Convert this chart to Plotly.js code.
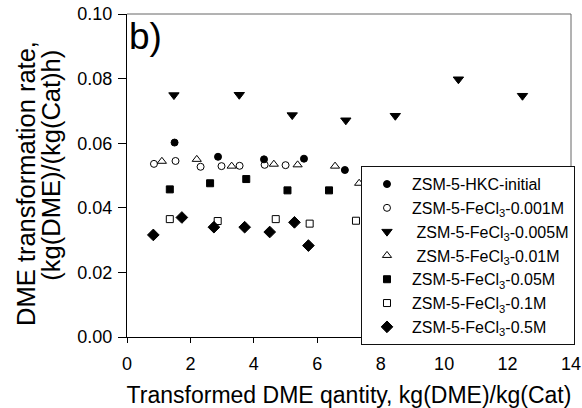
<!DOCTYPE html>
<html>
<head>
<meta charset="utf-8">
<script src="https://cdn.plot.ly/plotly-3.0.1.min.js"></script>
<style>html,body{margin:0;padding:0;background:#fff;}#chart{width:582px;height:408px;}</style>
</head>
<body>
<div id="chart"></div>
<script>
// Series data
const hkcX = [1.50, 2.87, 4.32, 5.58, 6.87];
const hkcY = [0.0602, 0.0558, 0.0550, 0.0552, 0.0517];

const fe0001X = [0.85, 1.53, 2.32, 2.98, 3.55, 4.34, 5.00];
const fe0001Y = [0.0536, 0.0545, 0.0527, 0.0529, 0.0530, 0.0533, 0.0532];

const fe0005X = [1.48, 3.54, 5.21, 6.90, 8.46, 10.45, 12.47];
const fe0005Y = [0.0749, 0.0750, 0.0687, 0.0671, 0.0685, 0.0798, 0.0747];

const fe001X = [1.10, 2.20, 3.30, 4.63, 5.38, 6.56, 7.32, 8.10];
const fe001Y = [0.0544, 0.0550, 0.0529, 0.0535, 0.0533, 0.0529, 0.0476, 0.0515];

const fe005X = [1.35, 2.62, 3.76, 5.06, 6.37];
const fe005Y = [0.0457, 0.0476, 0.0489, 0.0454, 0.0454];

const fe01X = [1.35, 2.86, 4.69, 5.76, 7.22];
const fe01Y = [0.0365, 0.0359, 0.0365, 0.0351, 0.0360];

const fe05X = [0.83, 1.73, 2.74, 3.71, 4.50, 5.28, 5.72];
const fe05Y = [0.0316, 0.0370, 0.0340, 0.0340, 0.0325, 0.0355, 0.0283];

const seriesNames = [
  'ZSM-5-HKC-initial',
  'ZSM-5-FeCl<sub>3</sub>-0.001M',
  ' ZSM-5-FeCl<sub>3</sub>-0.005M',
  ' ZSM-5-FeCl<sub>3</sub>-0.01M',
  'ZSM-5-FeCl<sub>3</sub>-0.05M',
  'ZSM-5-FeCl<sub>3</sub>-0.1M',
  'ZSM-5-FeCl<sub>3</sub>-0.5M'
];
const xTickVals = [0, 2, 4, 6, 8, 10, 12, 14];
const yTickVals = [0, 0.02, 0.04, 0.06, 0.08, 0.10];
const xTitle = 'Transformed DME qantity, kg(DME)/kg(Cat)';
const yTitleLines = ['DME transformation rate,', '(kg(DME)/(kg(Cat)h)'];

const FONT = 'Liberation Sans, Arial, sans-serif';
function tr(x, y, name, symbol, size) {
  return {
    x: x, y: y, name: name, type: 'scatter', mode: 'markers',
    marker: {symbol: symbol, size: size, color: '#000',
             line: {color: '#000', width: 1}},
    cliponaxis: false
  };
}
const data = [
  tr(hkcX, hkcY, seriesNames[0], 'circle', 7),
  tr(fe0001X, fe0001Y, seriesNames[1], 'circle-open', 7),
  tr(fe0005X, fe0005Y, seriesNames[2], 'triangle-down', 9),
  tr(fe001X, fe001Y, seriesNames[3], 'triangle-up-open', 8),
  tr(fe005X, fe005Y, seriesNames[4], 'square', 7),
  tr(fe01X, fe01Y, seriesNames[5], 'square-open', 7),
  tr(fe05X, fe05Y, seriesNames[6], 'diamond', 9)
];

const layout = {
  width: 582, height: 408,
  margin: {l: 127, r: 7, t: 14, b: 71},
  paper_bgcolor: '#fff', plot_bgcolor: '#fff',
  font: {family: FONT, color: '#000', size: 15},
  showlegend: true,
  legend: {
    x: 0.527, y: 0.529, xanchor: 'left', yanchor: 'top',
    bgcolor: '#fff', bordercolor: '#111', borderwidth: 1,
    font: {family: FONT, size: 16, color: '#000'},
    itemwidth: 40, tracegroupgap: 0
  },
  xaxis: {
    range: [0, 14], tickvals: xTickVals, ticktext: xTickVals.map(String),
    showgrid: false, zeroline: false, showline: true, mirror: false,
    linecolor: '#000', linewidth: 1,
    ticks: 'outside', ticklen: 5, tickcolor: '#000',
    ticklabelstandoff: 5, ticklabeloverflow: 'allow',
    tickfont: {family: FONT, size: 18},
    title: {text: xTitle, font: {family: FONT, size: 23}, standoff: 14}
  },
  yaxis: {
    range: [0, 0.10], tickvals: yTickVals, ticktext: yTickVals.map(v => v.toFixed(2)),
    showgrid: false, zeroline: false, showline: true, mirror: false,
    linecolor: '#000', linewidth: 1,
    ticks: 'outside', ticklen: 8, tickcolor: '#000',
    ticklabelstandoff: 2, ticklabeloverflow: 'allow',
    tickfont: {family: FONT, size: 18}
  },
  shapes: [
    {type: 'line', xref: 'paper', yref: 'paper', x0: 0, x1: 1, y0: 1, y1: 1, line: {color: '#666', width: 1}},
    {type: 'line', xref: 'paper', yref: 'paper', x0: 1, x1: 1, y0: 0, y1: 1, line: {color: '#666', width: 1}}
  ],
  annotations: [{
    text: 'b)', xref: 'paper', yref: 'paper', x: 0.0, y: 1.0,
    xanchor: 'left', yanchor: 'top', showarrow: false,
    font: {family: FONT, size: 37, color: '#000'}
  }, {
    text: yTitleLines[0], xref: 'paper', yref: 'paper', x: -0.226, y: 0.476,
    xanchor: 'center', yanchor: 'middle', textangle: -90, showarrow: false,
    font: {family: FONT, size: 25.5, color: '#000'}
  }, {
    text: yTitleLines[1], xref: 'paper', yref: 'paper', x: -0.17, y: 0.532,
    xanchor: 'center', yanchor: 'middle', textangle: -90, showarrow: false,
    font: {family: FONT, size: 25.5, color: '#000'}
  }]
};
Plotly.newPlot('chart', data, layout, {displayModeBar: false, staticPlot: true});
</script>
</body>
</html>
